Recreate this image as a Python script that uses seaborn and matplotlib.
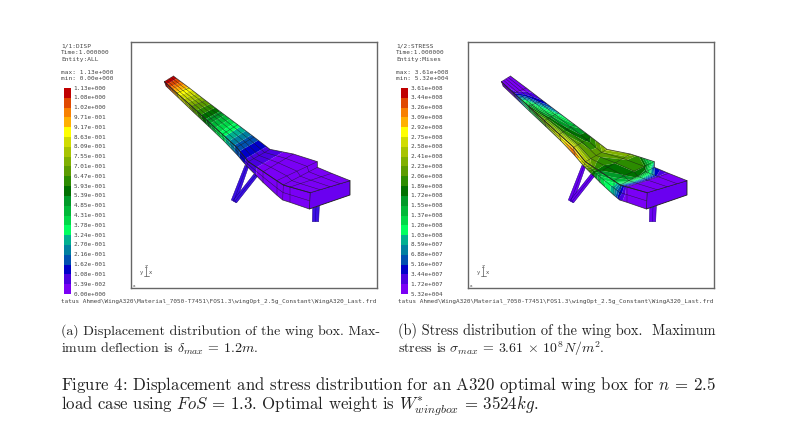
import numpy as np
import seaborn as sns
import matplotlib
matplotlib.use("Agg")
import matplotlib.pyplot as plt
from matplotlib.colors import ListedColormap, BoundaryNorm
from matplotlib.patches import Polygon

sns.set_theme(style="white")
plt.rcParams['mathtext.fontset'] = 'cm'
plt.rcParams['axes.formatter.use_mathtext'] = True

W, H = 797, 447

# fringe colours, low to high
fringe = ['#7a00f5', '#4a00e0', '#0000c8', '#0050b0', '#0080a0', '#00b090', '#00ff60',
          '#00d848', '#00b838', '#009a28', '#007000', '#2c8c00', '#5c9c00', '#80b000',
          '#a8c400', '#d0dc00', '#ffff00', '#ffb000', '#f88000', '#e04800', '#c00000']

disp_labels = ['1.13e+000', '1.08e+000', '1.02e+000', '9.71e-001', '9.17e-001', '8.63e-001',
               '8.09e-001', '7.55e-001', '7.01e-001', '6.47e-001', '5.93e-001', '5.39e-001',
               '4.85e-001', '4.31e-001', '3.78e-001', '3.24e-001', '2.70e-001', '2.16e-001',
               '1.62e-001', '1.08e-001', '5.39e-002', '0.00e+000']
stress_labels = ['3.61e+008', '3.44e+008', '3.26e+008', '3.09e+008', '2.92e+008', '2.75e+008',
                 '2.58e+008', '2.41e+008', '2.23e+008', '2.06e+008', '1.89e+008', '1.72e+008',
                 '1.55e+008', '1.37e+008', '1.20e+008', '1.03e+008', '8.59e+007', '6.88e+007',
                 '5.16e+007', '3.44e+007', '1.72e+007', '5.32e+004']
disp_levels = [0, .0539, .108, .162, .216, .270, .324, .378, .431, .485, .539, .593, .647, .701,
               .755, .809, .863, .917, .971, 1.02, 1.08, 1.13]
stress_levels = [0, .172, .344, .516, .688, .859, 1.03, 1.20, 1.37, 1.55, 1.72, 1.89, 2.06, 2.23,
                 2.41, 2.58, 2.75, 2.92, 3.09, 3.26, 3.44, 3.61]

# wing geometry (model x, y)
top_back = [(130, 48), (178, 84), (226, 121), (275, 158), (323, 194), (372, 231), (420, 268),
            (490, 282), (562, 305), (562, 322), (605, 340), (660, 362)]
top_front = [(103, 65), (140, 99), (185, 139), (232, 182), (277, 223), (320, 262), (355, 305),
             (400, 335), (440, 362), (460, 375), (480, 381), (540, 398)]
side_bottom = [(108, 78), (145, 113), (190, 156), (237, 200), (282, 243), (322, 285), (350, 318),
               (400, 368), (440, 405), (458, 420), (480, 427), (538, 447)]
aft_face = [(540, 398), (660, 362), (660, 405), (538, 447)]
strut_a = [(345, 316), (355, 322), (318, 428), (304, 420)]
strut_b = [(372, 342), (383, 348), (320, 428), (310, 420)]
strut_c = [(548, 445), (568, 438), (566, 485), (547, 485)]

# displacement per station
disp_station = [1.13, .90, .70, .52, .35, .19, .085, .03, .012, .006, .003, .002]

# stress (1e8) on top surface, back to front, per station
stress_top = [[.03, .03, .03, .03, .05],
              [.03, .10, .10, .15, .30],
              [.35, .50, .90, 1.4, 1.8],
              [.80, 1.3, 1.6, 1.9, 2.3],
              [1.4, 1.6, 1.8, 2.0, 2.6],
              [1.9, 1.8, 2.0, 2.2, 2.8],
              [2.5, 2.2, 2.1, 2.2, 2.6],
              [2.4, 2.1, 1.9, 1.8, 1.7],
              [1.0, 1.9, 1.9, 1.7, 1.4],
              [.50, 1.6, 1.8, 1.5, .80],
              [.12, .14, .18, .16, .10],
              [.03, .04, .05, .06, .08]]
# stress on side surface, top to bottom, per station
stress_side = [[.05, .03, .03],
               [.30, .20, .10],
               [1.8, 1.5, 1.1],
               [2.3, 2.2, 1.8],
               [2.6, 2.8, 2.6],
               [2.8, 3.3, 3.2],
               [2.6, 2.6, 2.3],
               [1.7, 1.3, 1.4],
               [1.3, .95, .90],
               [.70, .45, .25],
               [.10, .08, .05],
               [.03, .03, .03]]


def grid(a, b, n):
    a, b = np.array(a, float), np.array(b, float)
    s = np.linspace(0, 1, n)[None, :, None]
    g = a[:, None, :] * (1 - s) + b[:, None, :] * s
    return g[..., 0], g[..., 1]


def surface(ax, a, b, Z, levels, cmap, norm):
    Z = np.array(Z, float)
    X, Y = grid(a, b, Z.shape[1])
    ax.contourf(X, Y, Z, levels=levels, cmap=cmap, norm=norm, extend='both', antialiased=True)
    for i in range(X.shape[0]):
        ax.plot(X[i], Y[i], color='k', lw=0.35, alpha=.75)
    for j in range(X.shape[1]):
        edge = j in (0, X.shape[1] - 1)
        ax.plot(X[:, j], Y[:, j], color='k', lw=0.55 if edge else 0.35, alpha=.8)


def draw_panel(ax, Ztop, Zside, levels, aft, strut):
    cmap = ListedColormap(fringe)
    norm = BoundaryNorm(levels, cmap.N)
    cmap = cmap.with_extremes(under=fringe[0], over=fringe[-1])
    ax.set_xlim(3, 741)
    ax.set_ylim(684, -54)
    ax.set_xticks([])
    ax.set_yticks([])
    for s in ax.spines.values():
        s.set_visible(True)
        s.set_color('#666666')
        s.set_linewidth(1.0)
    for st in (strut_a, strut_b, strut_c):
        ax.add_patch(Polygon(st, fc=strut, ec='#1a0080', lw=0.35))
        p = np.array(st, float)
        ax.plot([(p[0, 0] + p[1, 0]) / 2, (p[3, 0] + p[2, 0]) / 2],
                [(p[0, 1] + p[1, 1]) / 2, (p[3, 1] + p[2, 1]) / 2], color='#1a0080', lw=0.3)
    ax.add_patch(Polygon(aft_face, fc=aft, ec='k', lw=0.6))
    surface(ax, top_front, side_bottom, Zside, levels, cmap, norm)
    surface(ax, top_back, top_front, Ztop, levels, cmap, norm)


axL = plt.figure(figsize=(W / 100, H / 100), dpi=100).add_axes([131 / W, 1 - 288 / H, 246 / W, 246 / H])
fig = axL.figure
axR = fig.add_axes([468 / W, 1 - 288 / H, 246 / W, 246 / H])

d = np.array(disp_station)
draw_panel(axL, np.column_stack([d] * 5), np.column_stack([d] * 3), disp_levels, '#6a00f0', '#3a10e4')
draw_panel(axR, stress_top, stress_side, stress_levels, '#6a00f0', '#6a00f0')

# colour bars
for x0, labels in ((64, disp_labels), (401, stress_labels)):
    bar = fig.add_axes([x0 / W, 1 - 294 / H, 7 / W, 206 / H])
    cells = np.arange(21)[::-1].reshape(-1, 1)
    sns.heatmap(cells, ax=bar, cmap=ListedColormap(fringe), cbar=False, xticklabels=False,
                yticklabels=False, vmin=-.5, vmax=20.5)
    for i, lab in enumerate(labels):
        bar.text(1.35, i, lab, family='DejaVu Sans Mono', fontsize=4.3, color='#444444',
                 va='center', ha='left', clip_on=False)


def mono(x, y, s, size=4.4):
    fig.text(x / W, 1 - y / H, s, family='DejaVu Sans Mono', fontsize=size, color='#444444',
             va='center', ha='left')


for x, lines in ((61, ['1/1:DISP', 'Time:1.000000', 'Entity:ALL', 'max: 1.13e+000', 'min: 0.00e+000']),
                 (396, ['1/2:STRESS', 'Time:1.000000', 'Entity:Mises', 'max: 3.61e+008', 'min: 5.32e+004'])):
    for y, s in zip((46.5, 52.5, 59, 73, 78), lines):
        mono(x, y, s)

status = r'tatus Ahmed\WingA320\Material_7050-T7451\FOS1.3\wingOpt_2.5g_Constant\WingA320_Last.frd'
mono(61, 301, status, 4.35)
mono(398, 301, status, 4.35)

# triad marks
for x0 in (146, 483):
    fig.add_artist(plt.Line2D([x0 / W, x0 / W], [1 - 276 / H, 1 - 267 / H], color='#555555', lw=0.5))
    fig.add_artist(plt.Line2D([(x0 - 2) / W, (x0 + 3) / W], [1 - 275.5 / H] * 2, color='#555555', lw=0.5))
    fig.text((x0 + 3) / W, 1 - 272.5 / H, 'x', fontsize=4, color='#555555', va='center')
    fig.text((x0 - 6) / W, 1 - 272.5 / H, 'y', fontsize=4, color='#555555', va='center')
    fig.text((x0 - 1.5) / W, 1 - 266 / H, 'z', fontsize=4, color='#555555', va='center')
    fig.text((x0 - 13) / W, 1 - 286 / H, 'a', fontsize=3, color='#555555', va='center')


def cap(x, y, s, size):
    fig.text(x / W, 1 - y / H, s, family='cmr10', fontsize=size, color='#222222',
             va='baseline', ha='left')


cap(61, 335, '(a) Displacement distribution of the wing box. Max-', 10.0)
cap(61, 353, r'imum deflection is $\delta_{max}$ = 1.2$m$.', 10.0)
cap(398, 335, '(b) Stress distribution of the wing box.  Maximum', 10.3)
cap(398, 353, r'stress is $\sigma_{max}$ = 3.61 $\times$ 10$^{8}$$N/m^{2}$.', 10.0)
cap(61, 390, r'Figure 4: Displacement and stress distribution for an A320 optimal wing box for $n$ = 2.5', 12.1)
cap(61, 409, r'load case using $FoS$ = 1.3. Optimal weight is $W^{*}_{wingbox}$ = 3524$kg$.', 12.1)

fig.savefig('out.png', dpi=100)
